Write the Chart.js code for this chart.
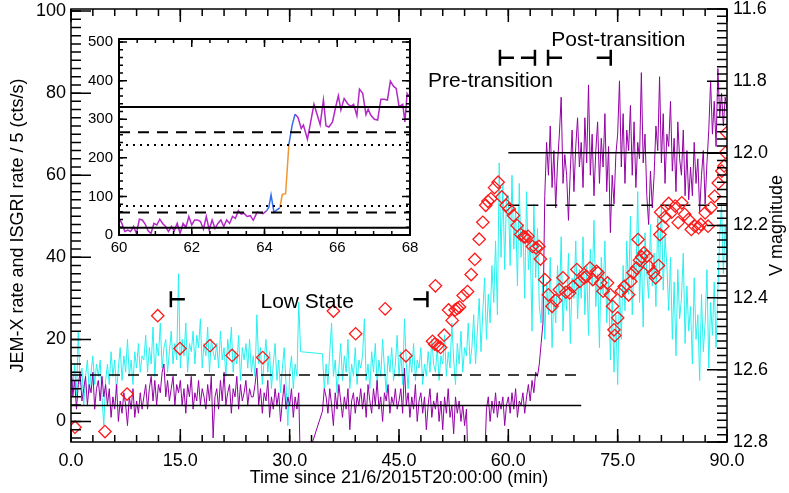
<!DOCTYPE html>
<html>
<head>
<meta charset="utf-8">
<script src="https://cdn.jsdelivr.net/npm/chart.js@4.4.1/dist/chart.umd.min.js"></script>
<style>
  html, body { margin: 0; padding: 0; background: #fff; }
  #wrap { position: relative; width: 789px; height: 493px; }
  #main { position: absolute; left: 0; top: 0; }
  #inset { position: absolute; left: 70px; top: 20px; }
</style>
</head>
<body>
<div id="wrap">
  <canvas id="main" width="789" height="493"></canvas>
  <canvas id="inset" width="350" height="240"></canvas>
</div>
<script>
// Data

// light curves sampled every 0.25 min from t = 0 to 90 (null = no data)
const sampleStep = 0.25;
const jemxRate = [
  12,8,14,6,22,9,13,4,11,15,7,12,16,9,14,11,15,6,-1,10,          // 0
  14,9,17,11,15,7,13,18,10,16,12,20,11,15,9,17,13,19,12,16,      // 5
  15,21,12,18,14,23,11,19,16,24,13,18,20,12,17,22,14,19,15,36,   // 10
  13,20,16,24,12,19,17,22,14,21,18,25,13,19,16,23,12,20,17,15,   // 15
  19,13,22,15,18,11,20,16,23,12,17,14,21,10,18,15,19,13,20,12,   // 20
  16,11,26,14,18,9,15,20,12,17,8,14,19,10,15,7,13,18,9,-1,       // 25
  12,16,8,14,11,29,17,null,null,null,null,null,null,null,null,null,null,null,16.5,8, // 30
  14,9,17,24,11,15,7,13,19,10,16,12,20,8,14,11,18,9,15,13,       // 35
  16,25,10,14,8,17,12,19,9,15,11,20,13,7,16,12,18,10,14,21,      // 40
  11,17,9,25,14,8,16,12,19,10,15,13,18,9,14,11,17,12,20,14,      // 45
  12,18,10,16,14,21,11,17,13,24,15,9,19,14,22,12,18,16,24,14,    // 50
  18,26,14,22,30,17,27,35,20,31,24,38,29,44,26,63,40,58,37,55,   // 55
  55,38,60,42,52,33,58,40,48,30,56,37,44,22,53,35,47,28,24,36,   // 60
  20,34,26,40,18,31,24,38,29,45,22,33,27,41,19,35,30,44,25,37,   // 65
  30,45,26,38,21,42,33,49,28,36,18,40,31,44,24,35,15,30,12,26,   // 70
  9,33,20,38,27,44,31,50,26,39,34,56,29,42,23,46,36,30,48,33,    // 75
  41,28,50,36,53,32,45,38,27,40,20,34,16,37,25,30,41,19,33,22,   // 80
  28,14,35,20,26,10,31,17,24,37,13,29,21,34,18,32,45,53,36,48,   // 85
  40
];
const isgriRate5 = [
  15,6,10,3,9,12,5,8,11,4,9,7,12,3,8,10,5,11,6,9,                // 0
  4,8,1,6,3,9,0,5,2,7,4,-1,6,3,8,1,5,2,7,3,                      // 5
  6,9,3,8,11,5,10,4,9,7,12,14,6,10,5,8,11,4,9,7,                 // 10
  10,4,8,2,9,6,11,3,7,5,10,4,8,6,3,9,5,11,-4,6,                  // 15
  8,3,10,5,12,4,7,9,2,8,6,11,3,9,5,7,10,4,8,6,                   // 20
  6,9,13,4,8,2,7,5,10,1,6,3,8,4,7,0,5,9,3,6,                     // 25
  4,8,1,6,3,7,-14,null,null,null,null,null,null,null,null,null,null,null,2.5,8, // 30
  6,2,8,4,-1,7,3,9,5,1,6,3,8,-2,5,7,2,6,4,8,                     // 35
  3,7,1,9,5,2,8,4,10,3,6,0,7,5,9,2,6,4,8,3,                      // 40
  5,8,2,13,4,7,1,6,3,9,0,5,7,2,6,-2,4,8,1,5,                     // 45
  3,7,0,5,-2,6,2,8,1,4,-3,6,2,5,0,4,-1,3,-12,null,               // 50
  null,null,null,null,null,null,null,-10,3,6,0,5,2,7,1,5,3,6,-1,4, // 55
  6,2,7,3,8,1,5,4,7,2,6,9,5,10,7,12,11,14,19,24,                 // 60
  55,68,60,72,57,66,52,63,70,79,58,65,60,49,61,71,56,67,74,62,   // 65
  68,57,74,63,82,60,70,55,66,73,58,69,62,75,56,67,46,60,53,65,   // 70
  70,83,62,75,58,71,66,77,60,73,57,68,64,85,63,70,55,48,61,52,   // 75
  60,72,66,84,63,75,58,70,67,78,61,69,56,73,64,60,71,55,66,54,   // 80
  62,55,68,58,64,51,60,66,53,63,71,83,70,78,67,86,74,80,72,79,   // 85
  76
];

// V magnitude points
const vTime = [0.55,4.66,7.7,11.9,14.95,19.07,22.1,26.3,36.0,39.05,43.1,45.95,49.6,49.9,50.0,50.3,50.7,51.2,51.8,52.3,
  52.7,53.0,53.3,53.8,54.4,54.9,55.4,56.0,56.5,56.9,57.2,57.6,58.1,58.6,59.1,59.7,60.1,60.7,61.2,61.7,
  62.1,62.3,62.7,63.3,63.8,64.2,64.4,65.0,65.5,66.0,66.5,67.0,67.5,67.9,68.4,68.9,69.4,69.8,70.4,70.7,
  71.2,71.6,72.1,72.3,72.7,73.0,73.6,74.0,74.3,74.5,74.6,75.0,75.5,75.9,76.5,76.8,77.1,77.6,77.8,78.0,
  78.3,78.6,79.0,79.3,79.9,80.2,80.6,80.8,80.9,81.2,81.5,82.0,82.4,82.9,83.3,83.8,84.2,84.7,85.1,85.6,
  86.1,86.4,87.0,87.4,87.8,88.3,88.8,89.3,89.6,89.8,89.95];
const vMag = [12.759,12.771,12.667,12.45,12.541,12.533,12.56,12.566,12.437,12.5,12.431,12.561,12.521,12.529,12.367,12.533,12.538,12.504,12.434,12.463,
  12.434,12.43,12.426,12.394,12.383,12.336,12.294,12.238,12.191,12.144,12.133,12.126,12.095,12.08,12.121,12.144,12.154,12.172,12.2,12.225,
  12.231,12.232,12.23,12.258,12.262,12.258,12.293,12.35,12.392,12.424,12.408,12.378,12.345,12.385,12.387,12.369,12.322,12.355,12.345,12.341,
  12.318,12.35,12.327,12.331,12.359,12.382,12.359,12.392,12.424,12.489,12.505,12.456,12.382,12.369,12.392,12.355,12.331,12.318,12.239,12.296,
  12.287,12.276,12.285,12.313,12.331,12.345,12.311,12.225,12.163,12.202,12.176,12.139,12.163,12.146,12.192,12.137,12.169,12.183,12.211,12.202,
  12.206,12.197,12.165,12.202,12.151,12.119,12.082,12.049,12.035,11.998,11.943];

// mean / threshold levels (main panel units)
const levelValue = [3.9, 11.3, 65.5, 52.7];
const levelFrom = [0, 0, 60, 60];
const levelTo = [70, 70, 90, 90];
const levelDashed = [false, true, false, true];

// state markers
const bracketTime = [13.7, 48.9, 58.85, 63.65, 65.45, 74.05];
const bracketLevel = [29.8, 29.8, 88.6, 88.6, 88.6, 88.6];
const bracketOpen = [true, false, true, false, true, false];
const noteText = ['Low State', 'Pre-transition', 'Post-transition'];
const noteTime = [32.4, 57.55, 75.1];
const noteLevel = [27.7, 81.4, 91.4];

// tick labels
const xTicks = [0, 15, 30, 45, 60, 75, 90];
const yTicks = [0, 20, 40, 60, 80, 100];
const vTicks = [11.6, 11.8, 12.0, 12.2, 12.4, 12.6, 12.8];

// inset: ISGRI rate around the transition
const insetTime = [60.00,60.08,60.16,60.24,60.32,60.40,60.48,60.56,60.64,60.72,60.80,60.88,60.96,61.04,61.12,61.20,61.28,61.36,61.44,61.52,
  61.60,61.68,61.76,61.84,61.92,62.00,62.08,62.16,62.24,62.32,62.40,62.48,62.56,62.64,62.72,62.80,62.88,62.96,63.04,63.12,
  63.20,63.28,63.36,63.44,63.52,63.61,63.69,63.80,63.96,64.06,64.12,64.18,64.26,64.35,64.42,64.49,64.58,64.67,64.76,64.84,
  64.92,65.01,65.07,65.18,65.27,65.36,65.45,65.53,65.62,65.69,65.77,65.87,65.96,66.03,66.10,66.19,66.28,66.37,66.45,66.54,
  66.61,66.70,66.79,66.85,66.92,67.02,67.11,67.20,67.29,67.38,67.46,67.55,67.62,67.70,67.80,67.86,67.92,67.98];
const insetRate = [43,30,9,13,9,22,4,41,39,28,11,4,30,26,41,30,22,9,22,11,
  30,4,30,20,48,26,39,39,35,15,48,13,39,17,30,39,22,39,30,48,
  43,63,54,56,48,50,38,59,55,63,72,104,59,66,70,105,107,234,285,313,
  305,276,285,248,293,339,311,286,350,283,280,293,333,361,324,354,341,333,339,309,
  378,367,312,326,311,300,298,352,352,350,399,385,380,333,339,293,367,359];
const blueSpans = [[64.06, 64.42], [64.67, 64.84]];
const orangeSpans = [[64.42, 64.67]];
const insetLevel = [332, 266, 233, 75, 58, 19];
const insetLevelDash = ['solid', 'dashed', 'dotted', 'dotted', 'dashed', 'solid'];
const insetXTicks = [60, 62, 64, 66, 68];
const insetYTicks = [0, 100, 200, 300, 400, 500];

// Helpers

const FONT = "'Liberation Sans', Arial, Helvetica, sans-serif";
Chart.defaults.font.family = FONT;
Chart.defaults.color = '#000';

const toPoints = arr => arr.map((v, i) => ({ x: i * sampleStep, y: v }));

// keep the plot box where it is, whatever the labels need
const fixBox = size => s => {
  if (s.isHorizontal()) s.height = size; else s.width = size;
  s.paddingTop = 0; s.paddingBottom = 0; s.paddingLeft = 0; s.paddingRight = 0;
};

function drawInwardTicks(ctx, scale, area, side, step, len) {
  const k0 = Math.ceil(scale.min / step - 1e-6);
  const k1 = Math.floor(scale.max / step + 1e-6);
  ctx.beginPath();
  for (let k = k0; k <= k1; k++) {
    const p = scale.getPixelForValue(k * step);
    if (side === 'bottom') { ctx.moveTo(p, area.bottom); ctx.lineTo(p, area.bottom - len); }
    if (side === 'top') { ctx.moveTo(p, area.top); ctx.lineTo(p, area.top + len); }
    if (side === 'left') { ctx.moveTo(area.left, p); ctx.lineTo(area.left + len, p); }
    if (side === 'right') { ctx.moveTo(area.right, p); ctx.lineTo(area.right - len, p); }
  }
  ctx.stroke();
}

const noGrid = { display: false, drawTicks: false };

// Main chart

const mainDecor = {
  id: 'mainDecor',
  afterDraw(chart) {
    const { ctx, chartArea: a, scales } = chart;
    ctx.save();
    ctx.strokeStyle = '#000';
    ctx.lineWidth = 1.5;
    ctx.strokeRect(a.left, a.top, a.right - a.left, a.bottom - a.top);
    drawInwardTicks(ctx, scales.x, a, 'bottom', 15, 13);
    drawInwardTicks(ctx, scales.x, a, 'bottom', 3, 7);
    drawInwardTicks(ctx, scales.x, a, 'top', 15, 13);
    drawInwardTicks(ctx, scales.x, a, 'top', 3, 7);
    drawInwardTicks(ctx, scales.y, a, 'left', 20, 20);
    drawInwardTicks(ctx, scales.y, a, 'left', 2, 10);
    drawInwardTicks(ctx, scales.y2, a, 'right', 0.2, 20);
    drawInwardTicks(ctx, scales.y2, a, 'right', 0.02, 10);

    // state brackets
    ctx.lineWidth = 2.5;
    bracketTime.forEach((t, i) => {
      const px = scales.x.getPixelForValue(t);
      const py = scales.y.getPixelForValue(bracketLevel[i]);
      const dir = bracketOpen[i] ? 1 : -1;
      ctx.beginPath();
      ctx.moveTo(px, py - 8); ctx.lineTo(px, py + 8);
      ctx.moveTo(px, py); ctx.lineTo(px + dir * 14, py);
      ctx.stroke();
    });

    ctx.fillStyle = '#000';
    ctx.font = '21px ' + FONT;
    ctx.textAlign = 'center';
    ctx.textBaseline = 'alphabetic';
    noteText.forEach((s, i) => {
      ctx.fillText(s, scales.x.getPixelForValue(noteTime[i]), scales.y.getPixelForValue(noteLevel[i]));
    });

    // right axis title, reading upwards
    ctx.font = '18px ' + FONT;
    ctx.textBaseline = 'middle';
    ctx.translate(777, (a.top + a.bottom) / 2);
    ctx.rotate(-Math.PI / 2);
    ctx.fillText('V magnitude', 0, 0);
    ctx.restore();
  }
};

const levelSets = levelValue.map((v, i) => ({
  data: [{ x: levelFrom[i], y: v }, { x: levelTo[i], y: v }],
  borderColor: '#000',
  borderWidth: 1.5,
  borderDash: levelDashed[i] ? [11, 8] : [],
  yAxisID: 'y'
}));

new Chart(document.getElementById('main'), {
  type: 'line',
  data: {
    datasets: [
      {
        data: vTime.map((t, i) => ({ x: t, y: vMag[i] })),
        yAxisID: 'y2',
        showLine: false,
        pointStyle: 'rectRot',
        pointRadius: 6.2,
        pointBorderWidth: 1.3,
        pointBorderColor: 'rgb(255,25,25)',
        pointBackgroundColor: 'rgba(255,255,255,0)'
      },
      ...levelSets,
      {
        data: toPoints(isgriRate5),
        yAxisID: 'y',
        borderColor: 'rgb(148,0,165)',
        borderWidth: 1,
        spanGaps: true
      },
      {
        data: toPoints(jemxRate),
        yAxisID: 'y',
        borderColor: 'rgb(40,240,240)',
        borderWidth: 1,
        spanGaps: true
      }
    ]
  },
  options: {
    responsive: false,
    animation: false,
    devicePixelRatio: 1,
    layout: { padding: { top: 9, left: 0, right: 0, bottom: 0 } },
    elements: { point: { radius: 0 }, line: { tension: 0 } },
    plugins: { legend: { display: false }, tooltip: { enabled: false } },
    scales: {
      x: {
        type: 'linear', min: 0, max: 90,
        afterBuildTicks: s => { s.ticks = xTicks.map(v => ({ value: v })); },
        afterFit: fixBox(51),
        grid: noGrid, border: { display: false },
        ticks: { autoSkip: false, maxRotation: 0, padding: 8, font: { size: 18 }, callback: v => v.toFixed(1) },
        title: { display: true, text: 'Time since 21/6/2015T20:00:00 (min)', font: { size: 18 }, padding: { top: 0, bottom: 4 } }
      },
      y: {
        type: 'linear', position: 'left', min: -5, max: 100.5,
        afterBuildTicks: s => { s.ticks = yTicks.map(v => ({ value: v })); },
        afterFit: fixBox(71),
        grid: noGrid, border: { display: false },
        ticks: { padding: 5, font: { size: 18 } },
        title: { display: true, text: 'JEM-X rate and ISGRI rate / 5 (cts/s)', font: { size: 18 }, padding: { top: 7, bottom: 0 } }
      },
      y2: {
        type: 'linear', position: 'right', min: 11.6, max: 12.8, reverse: true,
        afterBuildTicks: s => { s.ticks = vTicks.map(v => ({ value: v })); },
        afterFit: fixBox(62),
        grid: noGrid, border: { display: false },
        ticks: { padding: 6, font: { size: 18 }, callback: v => v.toFixed(1) }
      }
    }
  },
  plugins: [mainDecor]
});

// Inset chart

const insetDecor = {
  id: 'insetDecor',
  beforeDraw(chart) {
    const { ctx, chartArea: a } = chart;
    ctx.save();
    ctx.fillStyle = '#fff';
    ctx.fillRect(a.left, a.top, a.right - a.left, a.bottom - a.top);
    ctx.restore();
  },
  afterDraw(chart) {
    const { ctx, chartArea: a, scales } = chart;
    ctx.save();
    ctx.strokeStyle = '#000';
    ctx.lineWidth = 1.5;
    drawInwardTicks(ctx, scales.x, a, 'bottom', 2, 8);
    drawInwardTicks(ctx, scales.x, a, 'bottom', 0.5, 4);
    drawInwardTicks(ctx, scales.x, a, 'top', 2, 8);
    drawInwardTicks(ctx, scales.x, a, 'top', 0.5, 4);
    drawInwardTicks(ctx, scales.y, a, 'left', 100, 8);
    drawInwardTicks(ctx, scales.y, a, 'left', 20, 4);
    drawInwardTicks(ctx, scales.y, a, 'right', 100, 8);
    drawInwardTicks(ctx, scales.y, a, 'right', 20, 4);
    ctx.lineWidth = 2;
    ctx.strokeRect(a.left, a.top, a.right - a.left, a.bottom - a.top);
    ctx.restore();
  }
};

const inSpans = (t, spans) => spans.some(([a, b]) => t >= a && t < b);
const insetColor = t => inSpans(t, orangeSpans) ? 'rgb(240,150,50)'
  : inSpans(t, blueSpans) ? 'rgb(50,110,240)' : 'rgb(180,40,200)';

const dashFor = { solid: [], dashed: [11, 8], dotted: [2, 5] };
const insetLevelSets = insetLevel.map((v, i) => ({
  data: [{ x: 60, y: v }, { x: 68, y: v }],
  borderColor: '#000',
  borderWidth: 2,
  borderDash: dashFor[insetLevelDash[i]]
}));

new Chart(document.getElementById('inset'), {
  type: 'line',
  data: {
    datasets: [
      ...insetLevelSets,
      {
        data: insetTime.map((t, i) => ({ x: t, y: insetRate[i] })),
        borderWidth: 1.5,
        borderColor: 'rgb(180,40,200)',
        segment: { borderColor: c => insetColor(insetTime[c.p0DataIndex]) }
      }
    ]
  },
  options: {
    responsive: false,
    animation: false,
    devicePixelRatio: 1,
    layout: { padding: { top: 19, left: 0, right: 10, bottom: 0 } },
    elements: { point: { radius: 0 }, line: { tension: 0 } },
    plugins: { legend: { display: false }, tooltip: { enabled: false } },
    scales: {
      x: {
        type: 'linear', min: 60, max: 68,
        afterBuildTicks: s => { s.ticks = insetXTicks.map(v => ({ value: v })); },
        afterFit: fixBox(25),
        grid: noGrid, border: { display: false },
        ticks: { autoSkip: false, maxRotation: 0, padding: 4, font: { size: 15 } }
      },
      y: {
        type: 'linear', min: 0, max: 508,
        afterBuildTicks: s => { s.ticks = insetYTicks.map(v => ({ value: v })); },
        afterFit: fixBox(49),
        grid: noGrid, border: { display: false },
        ticks: { padding: 6, font: { size: 15 } }
      }
    }
  },
  plugins: [insetDecor]
});
</script>
</body>
</html>
